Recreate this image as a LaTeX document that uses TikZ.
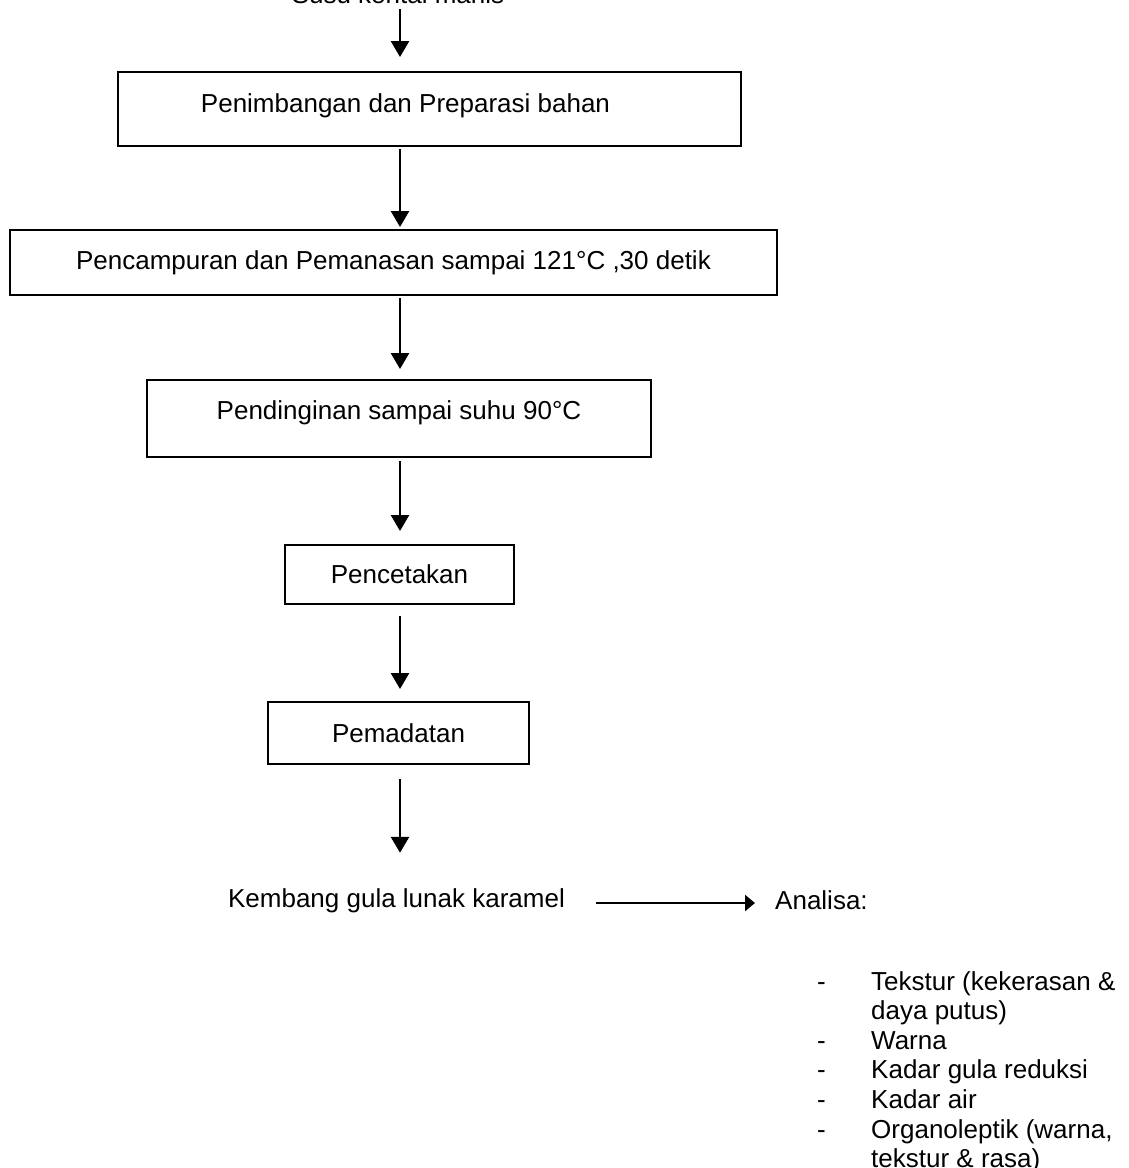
\documentclass[tikz,border=0pt]{standalone}
\usepackage{fontspec}
\setmainfont{Liberation Sans}
\usetikzlibrary{arrows.meta}

\begin{document}
\begin{tikzpicture}[x=1pt,y=-1pt,
  every node/.style={font=\fontsize{26}{29.6}\selectfont, inner sep=0pt, text height=19pt, text depth=5.5pt},
  box/.style={draw, line width=2pt},
  arr/.style={line width=2.7pt, -{Triangle[length=16pt,width=18pt]}},
  harr/.style={line width=2.7pt, -{Triangle[length=10pt,width=16pt]}}]
\useasboundingbox (0,0) rectangle (1129,1168);
\coordinate (axis) at (400,0);
% bahan
\node[anchor=base] (susu) at (398,3) {Susu kental manis};
% tahap proses
\node[box, minimum width=623pt, minimum height=74pt, text depth=12.5pt] (b1) at (429.5,109) {Penimbangan dan Preparasi bahan\kern48pt};
\node[box, minimum width=767pt, minimum height=65pt] (b2) at (393.5,262.5) {Pencampuran dan Pemanasan sampai 121°C ,30 detik};
\node[box, minimum width=504pt, minimum height=77pt, text depth=16.4pt] (b3) at (399,418.5) {Pendinginan sampai suhu 90°C};
\node[box, minimum width=229pt, minimum height=59pt, text depth=0.4pt] (b4) at (399.5,574.5) {Pencetakan};
\node[box, minimum width=261pt, minimum height=62pt, text depth=0.4pt] (b5) at (398.5,733) {Pemadatan};
% produk
\node[anchor=base] (prod) at (396.5,907) {Kembang gula lunak karamel};
\node[anchor=base west] (ana) at (775,909) {Analisa:};
% panah
\draw[arr, shorten <=0.5pt, shorten >=14pt] (susu.south -| axis) -- (b1.north -| axis);
\draw[arr, shorten <=2pt, shorten >=2pt] (b1.south -| axis) -- (b2.north -| axis);
\draw[arr, shorten <=2pt, shorten >=10pt] (b2.south -| axis) -- (b3.north -| axis);
\draw[arr, shorten <=3pt, shorten >=13pt] (b3.south -| axis) -- (b4.north -| axis);
\draw[arr, shorten <=11pt, shorten >=12pt] (b4.south -| axis) -- (b5.north -| axis);
\draw[arr, shorten <=14pt, shorten >=35pt] (b5.south -| axis) -- (prod.north -| axis);
\draw[harr, shorten <=31pt, shorten >=20pt] ([yshift=-2.75pt]prod.east) -- ([yshift=-2.75pt]prod.east -| ana.west);
% daftar analisa
\foreach \i in {0,2,3,4,5}
  \node[anchor=base west] (dash\i) at (817,{990+29.6*\i}) {-};
\foreach \t [count=\i from 0] in {Tekstur (kekerasan \&, daya putus), Warna, Kadar gula reduksi, Kadar air, {Organoleptik (warna,}, tekstur \& rasa)}
  \node[anchor=base west] (item\i) at (871,{990+29.6*\i}) {\t};
\end{tikzpicture}
\end{document}
